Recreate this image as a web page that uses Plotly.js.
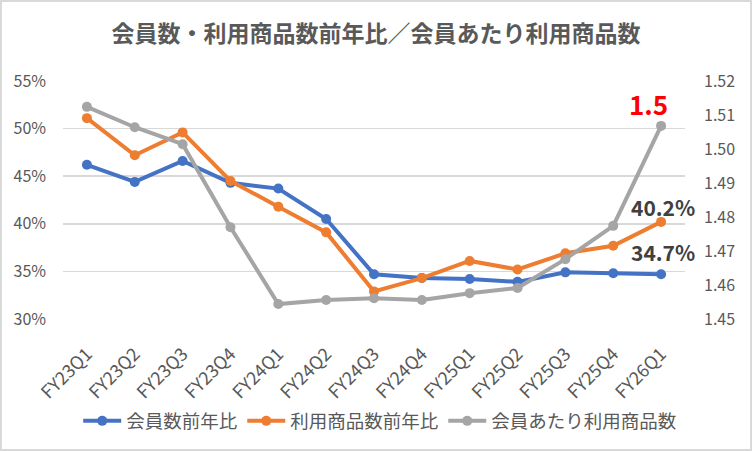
<!DOCTYPE html>
<html>
<head>
<meta charset="utf-8">
<script src="https://cdn.plot.ly/plotly-3.0.1.min.js"></script>
<style>
  body { margin: 0; background: #fff; }
  #chart { width: 752px; height: 452px; }
  #frame { position: absolute; left: 0; top: 0; width: 752px; height: 451px;
           box-sizing: border-box; border: 2px solid #d9d9d9; pointer-events: none; }
</style>
</head>
<body>
<div id="chart"></div>
<div id="frame"></div>
<script>
var quarters = ['FY23Q1', 'FY23Q2', 'FY23Q3', 'FY23Q4', 'FY24Q1', 'FY24Q2', 'FY24Q3',
                'FY24Q4', 'FY25Q1', 'FY25Q2', 'FY25Q3', 'FY25Q4', 'FY26Q1'];
// YoY growth, fraction
var memberYoY = [0.462, 0.444, 0.466, 0.443, 0.437, 0.405, 0.347,
                 0.343, 0.342, 0.339, 0.349, 0.348, 0.347];
var productYoY = [0.511, 0.472, 0.496, 0.445, 0.418, 0.391, 0.329,
                  0.343, 0.361, 0.352, 0.369, 0.377, 0.402];
// products per member (right axis)
var perMember = [1.5124, 1.5064, 1.5014, 1.4770, 1.4544, 1.4556, 1.4561,
                 1.4556, 1.4576, 1.4591, 1.4676, 1.4774, 1.5068];

var font = '"Noto Sans CJK JP", "Noto Sans", sans-serif';
var textCol = '#595959';

function series(name, y, color, axis) {
  return {
    x: quarters, y: y, name: name, type: 'scatter', mode: 'lines+markers',
    yaxis: axis,
    line: { color: color, width: 4 },
    marker: { color: color, size: 10 },
    hoverinfo: 'skip'
  };
}

var data = [
  series('会員数前年比', memberYoY, '#4472C4', 'y'),
  series('利用商品数前年比', productYoY, '#ED7D31', 'y'),
  series('会員あたり利用商品数', perMember, '#A5A5A5', 'y2')
];

var last = quarters.length - 1;

var layout = {
  width: 752,
  height: 452,
  margin: { l: 63, r: 67, t: 81, b: 133, pad: 0, autoexpand: false },
  paper_bgcolor: '#fff',
  plot_bgcolor: '#fff',
  font: { family: font, color: textCol, size: 16 },
  title: {
    text: '会員数・利用商品数前年比／会員あたり利用商品数',
    font: { family: font, size: 23, color: textCol, weight: 'bold' },
    x: 0.5, xanchor: 'center', y: 0.925, yanchor: 'middle'
  },
  xaxis: {
    type: 'category',
    range: [-0.5, quarters.length - 0.5],
    tickangle: -45,
    showgrid: false,
    zeroline: false,
    showline: false,
    ticks: '',
    automargin: false,
    tickfont: { size: 18, color: textCol },
    ticklabelstandoff: 20
  },
  yaxis: {
    range: [0.30, 0.55],
    dtick: 0.05,
    tickformat: '.0%',
    gridcolor: '#d9d9d9',
    gridwidth: 1.5,
    zeroline: false,
    showline: false,
    ticks: '',
    automargin: false,
    tickfont: { size: 16, color: textCol },
    ticklabelstandoff: 16
  },
  yaxis2: {
    overlaying: 'y',
    side: 'right',
    range: [1.45, 1.52],
    dtick: 0.01,
    tickformat: '.2f',
    showgrid: false,
    zeroline: false,
    showline: false,
    ticks: '',
    automargin: false,
    tickfont: { size: 16, color: textCol },
    ticklabelstandoff: 18
  },
  legend: {
    orientation: 'h',
    x: 0.51, xanchor: 'center',
    y: -0.43, yanchor: 'middle',
    font: { size: 18.5, color: textCol },
    itemwidth: 38,
    tracegroupgap: 0
  },
  annotations: [
    {
      x: quarters[last], y: perMember[last], xref: 'x', yref: 'y2',
      text: '<b>1.5</b>', showarrow: false, xshift: -13, yshift: 22,
      font: { family: font, size: 26, color: '#FF0000' }
    },
    {
      x: quarters[last], y: productYoY[last], xref: 'x', yref: 'y',
      text: '<b>' + (productYoY[last] * 100).toFixed(1) + '%</b>', showarrow: false,
      xshift: 2, yshift: 15,
      font: { family: font, size: 21, color: '#404040' }
    },
    {
      x: quarters[last], y: memberYoY[last], xref: 'x', yref: 'y',
      text: '<b>' + (memberYoY[last] * 100).toFixed(1) + '%</b>', showarrow: false,
      xshift: 2, yshift: 22,
      font: { family: font, size: 21, color: '#404040' }
    }
  ],
  showlegend: true
};

Plotly.newPlot('chart', data, layout, { displayModeBar: false, staticPlot: true });
</script>
</body>
</html>
